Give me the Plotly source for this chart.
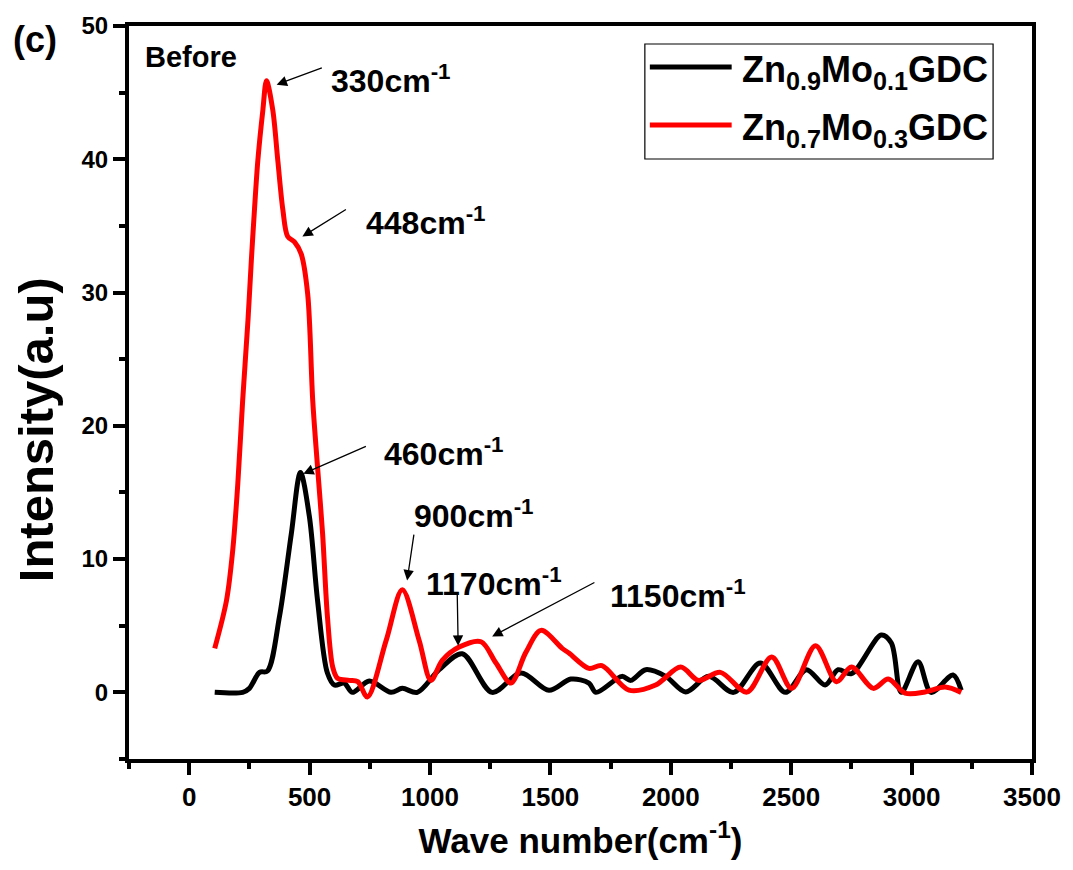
import plotly.graph_objects as go

# ---- data ----
red_x = [106, 155, 181, 202, 222, 244, 258, 271, 285, 306, 321, 347, 368, 389, 409, 437, 465, 492, 513, 533,
         554, 574, 596, 616, 665, 700, 740, 818, 885, 955, 1004, 1051, 1121, 1212, 1274, 1336, 1398, 1461,
         1549, 1577, 1660, 1714, 1826, 1937, 2041, 2115, 2206, 2316, 2419, 2502, 2601, 2688, 2750, 2841,
         2903, 2973, 3056, 3139, 3206]
red_y = [3.3, 6.9, 10.7, 15.7, 21.9, 27.9, 32.4, 36.2, 39.9, 43.7, 45.9, 43.7, 39.9, 36.2, 34.2, 33.8, 32.9,
         29.9, 21.9, 16.9, 11.9, 5.7, 1.9, 1.06, 0.9, 0.8, -0.35, 3.9, 7.7, 3.9, 0.9, 2.4, 3.4, 3.8, 2.2, 0.7,
         3.0, 4.65, 3.3, 2.95, 1.8, 2.0, 0.17, 0.55, 1.9, 0.9, 1.5, 0.02, 2.65, 0.3, 3.5, 0.8, 1.9, 0.3, 1.0,
         -0.05, 0.03, 0.4, 0.0]

black_x = [106, 222, 250, 292, 325, 375, 424, 462, 499, 533, 574, 603, 644, 677, 748, 838, 885, 947, 1038,
           1134, 1258, 1378, 1494, 1585, 1660, 1689, 1797, 1834, 1896, 1979, 2062, 2157, 2261, 2372, 2476,
           2563, 2641, 2695, 2750, 2874, 2916, 2957, 3027, 3081, 3172, 3206]
black_y = [0, 0, 0.3, 1.5, 1.6, 5.7, 11.9, 16.5, 13.2, 6.9, 1.45, 0.55, 0.7, 0, 0.85, 0, 0.3, 0, 1.7, 2.9, 0,
           1.45, 0.15, 1.0, 0.7, 0, 1.2, 0.9, 1.7, 1.2, 0.03, 1.2, 0, 2.2, 0, 1.7, 0.55, 1.7, 1.4, 4.3, 3.7,
           0, 2.3, 0, 1.3, 0.15]

series_names = ["Zn<sub>0.9</sub>Mo<sub>0.1</sub>GDC", "Zn<sub>0.7</sub>Mo<sub>0.3</sub>GDC"]
series_colors = ["#000000", "#ff0000"]

# peak labels: text, arrow head (x, y), arrow tail (x, y), text left x, text center y
peak_labels = ["330cm<sup>-1</sup>", "448cm<sup>-1</sup>", "460cm<sup>-1</sup>", "900cm<sup>-1</sup>",
               "1170cm<sup>-1</sup>", "1150cm<sup>-1</sup>"]
head_x = [363, 470, 474, 905, 1117, 1258]
head_y = [45.6, 34.2, 16.4, 8.4, 3.5, 4.2]
tail_x = [557, 657, 740, 934, 1113, 1689]
tail_y = [46.9, 36.3, 18.5, 11.95, 7.5, 8.3]
label_x = [582, 727, 802, 925, 975, 1738]
label_y = [46.0, 35.4, 18.0, 13.4, 8.3, 7.4]

FONT = "Liberation Sans, Arial, sans-serif"

L, R, T, B = 129, 1034, 26, 759
def px(xp):
    return (xp - L) / (R - L)
def py(yp):
    return (B - yp) / (B - T)

fig = go.Figure()
fig.add_trace(go.Scatter(x=black_x, y=black_y, mode="lines", name=series_names[0],
                         line=dict(color=series_colors[0], width=5, shape="spline", smoothing=0.9),
                         showlegend=False))
fig.add_trace(go.Scatter(x=red_x, y=red_y, mode="lines", name=series_names[1],
                         line=dict(color=series_colors[1], width=5, shape="spline", smoothing=0.9),
                         showlegend=False))

annotations = []
for t, hx, hy, tx, ty, lx, ly in zip(peak_labels, head_x, head_y, tail_x, tail_y, label_x, label_y):
    annotations.append(dict(x=hx, y=hy, ax=tx, ay=ty, axref="x", ayref="y", xref="x", yref="y",
                            text="", showarrow=True, arrowhead=2, arrowsize=1.6, arrowwidth=1.3,
                            arrowcolor="black"))
    annotations.append(dict(x=lx, y=ly, xref="x", yref="y", text=t, showarrow=False,
                            xanchor="left", yanchor="middle",
                            font=dict(family=FONT, size=32, color="black", weight="bold")))

# panel label and "Before"
annotations.append(dict(x=px(11), y=py(40), xref="paper", yref="paper", text="(c)", showarrow=False,
                        xanchor="left", yanchor="middle",
                        font=dict(family=FONT, size=36, color="black", weight="bold")))
annotations.append(dict(x=px(143), y=py(57), xref="paper", yref="paper", text="Before", showarrow=False,
                        xanchor="left", yanchor="middle",
                        font=dict(family=FONT, size=29, color="black", weight="bold")))

# y-axis title as annotation
annotations.append(dict(x=px(36), y=py(430), xref="paper", yref="paper", text="Intensity(a.u)",
                        textangle=-90, showarrow=False, xanchor="center", yanchor="middle",
                        font=dict(family=FONT, size=49, color="black", weight="bold")))

# custom legend
shapes = [dict(type="rect", xref="paper", yref="paper", x0=px(646), x1=px(995), y0=py(159), y1=py(44),
               line=dict(color="black", width=1.2), fillcolor="white", layer="above")]
leg_y = [67, 125]
for name, col, ly in zip(series_names, series_colors, leg_y):
    shapes.append(dict(type="line", xref="paper", yref="paper", x0=px(651), x1=px(733), y0=py(ly), y1=py(ly),
                       line=dict(color=col, width=5), layer="above"))
    annotations.append(dict(x=px(741), y=py(ly), xref="paper", yref="paper", text=name, showarrow=False,
                            xanchor="left", yanchor="middle", yshift=-5,
                            font=dict(family=FONT, size=36, color="black", weight="bold")))

fig.update_layout(
    width=1073, height=870,
    margin=dict(l=L, r=1073 - R, t=T, b=870 - B),
    paper_bgcolor="white", plot_bgcolor="white",
    showlegend=False,
    annotations=annotations,
    shapes=shapes,
    xaxis=dict(range=[-250, 3500], tick0=0, dtick=500, showgrid=False, zeroline=False,
               showline=True, linecolor="black", linewidth=4, mirror=True,
               ticks="outside", ticklen=12, tickwidth=4, tickcolor="black",
               minor=dict(ticks="outside", ticklen=6, tickwidth=4, dtick=250, tick0=0, tickcolor="black"),
               tickfont=dict(family=FONT, size=26, color="black", weight="bold"),
               title=dict(text="Wave number(cm<sup>-1</sup>)", standoff=18,
                          font=dict(family=FONT, size=35, color="black", weight="bold"))),
    yaxis=dict(range=[-5, 50], tick0=0, dtick=10, showgrid=False, zeroline=False,
               showline=True, linecolor="black", linewidth=4, mirror=True,
               ticks="outside", ticklen=12, tickwidth=4, tickcolor="black",
               minor=dict(ticks="outside", ticklen=6, tickwidth=4, dtick=5, tick0=0, tickcolor="black"),
               tickfont=dict(family=FONT, size=24, color="black", weight="bold")),
)

fig.write_html("out.html")
